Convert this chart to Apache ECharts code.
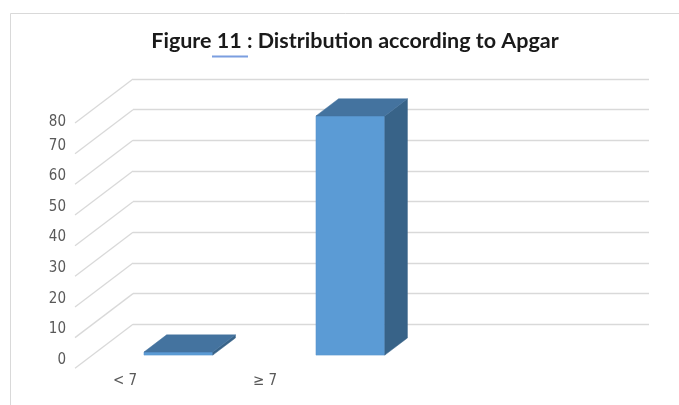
<!DOCTYPE html>
<html>
<head>
<meta charset="utf-8">
<title>Distribution according to Apgar</title>
<script src="https://cdn.jsdelivr.net/npm/echarts@6/dist/echarts.min.js"></script>
<style>
  html, body { margin: 0; padding: 0; background: #ffffff; }
  #chart { width: 679px; height: 405px; }
</style>
</head>
<body>
<div id="chart"></div>
<script>
// Apgar score groups and number of newborns in each
const categories = ['< 7', '\u2265 7', ''];
const counts = [1, 78, null];
// value axis ticks
const yTicks = [0, 10, 20, 30, 40, 50, 60, 70, 80];

const labelFont = '"Liberation Sans Narrow", "DejaVu Sans Condensed", sans-serif';
const gridColor = '#d9d9d9';

// floor depth: how far the front edge sits from the back wall (px)
const DEPTH_X = -58, DEPTH_Y = 44;
// bar placement inside the floor depth (0 = back wall, 1 = front edge)
const FRONT_F = 0.70, BACK_F = 0.31;

const chart = echarts.init(document.getElementById('chart'), null, { renderer: 'canvas' });

function renderBar(params, api) {
  const cat = api.value(0);
  const v = api.value(1);
  if (v == null || isNaN(v)) return;
  const base = api.coord([cat, 0]);
  const top = api.coord([cat, v]);
  const band = api.size([1, 0])[0];
  const w = band * 0.4;
  const fx = base[0] + DEPTH_X * FRONT_F;
  const fy = DEPTH_Y * FRONT_F;
  // back face position relative to the front face
  const shiftX = DEPTH_X * (BACK_F - FRONT_F);
  const shiftY = DEPTH_Y * (BACK_F - FRONT_F);
  const l = fx - w / 2, r = fx + w / 2;
  const yb = base[1] + fy, yt = top[1] + fy;
  return {
    type: 'group',
    children: [
      {
        type: 'polygon',
        shape: { points: [[l, yt], [r, yt], [r, yb], [l, yb]] },
        style: { fill: '#5b9bd5', stroke: '#5a96cf', lineWidth: 0.6 }
      },
      {
        type: 'polygon',
        shape: { points: [[r, yt], [r + shiftX, yt + shiftY], [r + shiftX, yb + shiftY], [r, yb]] },
        style: { fill: '#386388', stroke: '#386388', lineWidth: 0.5 }
      },
      {
        type: 'polygon',
        shape: { points: [[l, yt], [r, yt], [r + shiftX, yt + shiftY], [l + shiftX, yt + shiftY]] },
        style: { fill: '#44739f', stroke: '#44739f', lineWidth: 0.5 }
      }
    ]
  };
}

function renderDiagonal(params, api) {
  const cs = params.coordSys;
  const y = api.coord([0, api.value(1)])[1];
  return {
    type: 'line',
    shape: { x1: cs.x, y1: y, x2: cs.x + DEPTH_X, y2: y + DEPTH_Y },
    style: { stroke: gridColor, lineWidth: 1.3 }
  };
}

const option = {
  backgroundColor: '#ffffff',
  animation: false,
  title: {
    text: 'Figure 11 : Distribution according to Apgar',
    left: 350,
    top: 25,
    textAlign: 'center',
    textStyle: {
      fontFamily: 'Lato, "Open Sans", sans-serif',
      fontWeight: 'bold',
      fontSize: 21.5,
      color: '#1a1a1a'
    }
  },
  grid: [
    // back wall
    { left: 133, right: 30, top: 79, bottom: 80.7 },
    // value labels along the front edge
    { left: 70, width: 10, top: 115, bottom: 45 },
    // category labels along the front edge
    { left: 55, width: 420, top: 300, bottom: 39 }
  ],
  xAxis: [
    {
      type: 'category', gridIndex: 0, data: categories,
      axisLine: { show: false }, axisTick: { show: false }, axisLabel: { show: false }
    },
    {
      type: 'value', gridIndex: 1, show: false
    },
    {
      type: 'category', gridIndex: 2, data: categories,
      axisLine: { show: false }, axisTick: { show: false },
      axisLabel: { margin: 8, fontFamily: labelFont, fontSize: 15, color: '#595959' }
    }
  ],
  yAxis: [
    {
      type: 'value', gridIndex: 0, min: 0, max: 80, interval: 10,
      axisLine: { show: false }, axisTick: { show: false }, axisLabel: { show: false },
      splitLine: { lineStyle: { color: gridColor, width: 1.3 } }
    },
    {
      type: 'value', gridIndex: 1, min: 0, max: 80, interval: 10,
      axisLine: { show: false }, axisTick: { show: false }, splitLine: { show: false },
      axisLabel: {
        margin: 4, fontFamily: labelFont, fontSize: 15, color: '#595959',
        formatter: v => v === 80 ? '{low|80}' : String(v),
        rich: { low: { padding: [14, 0, 0, 0], fontFamily: labelFont, fontSize: 15, color: '#595959' } }
      }
    },
    {
      type: 'value', gridIndex: 2, show: false
    }
  ],
  series: [
    {
      type: 'custom', name: 'floor lines', xAxisIndex: 0, yAxisIndex: 0, silent: true,
      renderItem: renderDiagonal,
      data: yTicks.map(t => [0, t]),
      z: 1
    },
    {
      type: 'custom', name: 'Apgar', xAxisIndex: 0, yAxisIndex: 0,
      renderItem: renderBar,
      data: counts.map((c, i) => [i, c]),
      z: 3
    }
  ],
  graphic: [
    {
      type: 'rect', silent: true, z: -1,
      shape: { x: 10.5, y: 13.5, width: 700, height: 420 },
      style: { fill: 'none', stroke: '#d9d9d9', lineWidth: 1 }
    },
    {
      type: 'line', silent: true,
      shape: { x1: 212, y1: 56.5, x2: 248, y2: 56.5 },
      style: { stroke: '#7b9ee0', lineWidth: 2 }
    }
  ]
};

chart.setOption(option);
</script>
</body>
</html>
